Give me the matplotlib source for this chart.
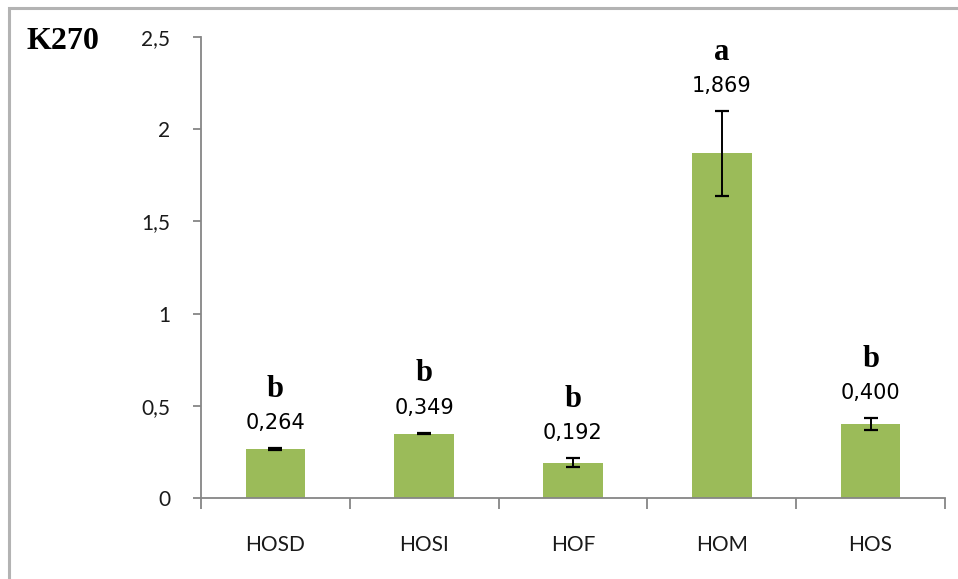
import matplotlib.pyplot as plt
from matplotlib.patches import Rectangle
from matplotlib.ticker import FuncFormatter

# K270 means per oil sample, standard deviations and significance letters
samples = ["HOSD", "HOSI", "HOF", "HOM", "HOS"]
k270 = [0.264, 0.349, 0.192, 1.869, 0.400]
k270_sd = [0.005, 0.004, 0.025, 0.23, 0.033]
groups = ["b", "b", "b", "a", "b"]

fig = plt.figure(figsize=(9.58, 5.79), dpi=100)
ax = fig.add_axes([0.2098, 0.140, 0.7766, 0.796])

x = range(len(samples))
ax.bar(x, k270, width=0.4, color="#9BBB59", zorder=2)
ax.errorbar(x, k270, yerr=k270_sd, fmt="none", ecolor="black",
            elinewidth=1.4, capsize=4.7, capthick=1.6, zorder=3)

ax.set_xlim(-0.5, len(samples) - 0.5)
ax.set_ylim(0, 2.5)
ax.set_yticks([0, 0.5, 1, 1.5, 2, 2.5])
ax.yaxis.set_major_formatter(FuncFormatter(lambda v, p: f"{v:g}".replace(".", ",")))

ax.set_xticks(list(x))
ax.set_xticklabels(samples, family="Lato", fontsize=15, color="#1a1a1a")
ax.set_xticks([i - 0.5 for i in range(len(samples) + 1)], minor=True)
ax.tick_params(axis="x", which="major", length=0, pad=27)
ax.tick_params(axis="x", which="minor", length=8, color="#868686", width=1.3)
ax.tick_params(axis="y", length=6, color="#868686", width=1.3, pad=16)
for lab in ax.get_yticklabels():
    lab.set_family("Lato")
    lab.set_fontsize(15)
    lab.set_color("#1a1a1a")

for side in ["top", "right"]:
    ax.spines[side].set_visible(False)
for side in ["left", "bottom"]:
    ax.spines[side].set_color("#868686")
    ax.spines[side].set_linewidth(1.3)

# value and letter above each error bar
for i, (v, sd, g) in enumerate(zip(k270, k270_sd, groups)):
    top = v + sd
    ax.annotate(f"{v:.3f}".replace(".", ","), (i, top), xytext=(0, 11),
                textcoords="offset points", ha="center", va="bottom",
                family="DejaVu Sans", fontsize=15)
    ax.annotate(g, (i, top), xytext=(0, 37), textcoords="offset points",
                ha="center", va="baseline", family="Liberation Serif",
                fontweight="bold", fontsize=22)

fig.text(0.028, 0.928, "K270", family="Liberation Serif", fontweight="bold",
         fontsize=23, va="center", ha="left")

# outer frame, open towards the right and bottom edges
fig.patches.append(Rectangle((0.0094, -0.1), 1.2, 1.086, transform=fig.transFigure,
                             fill=False, edgecolor="#b3b3b3", linewidth=2.2))

fig.savefig("out.png", dpi=100)
